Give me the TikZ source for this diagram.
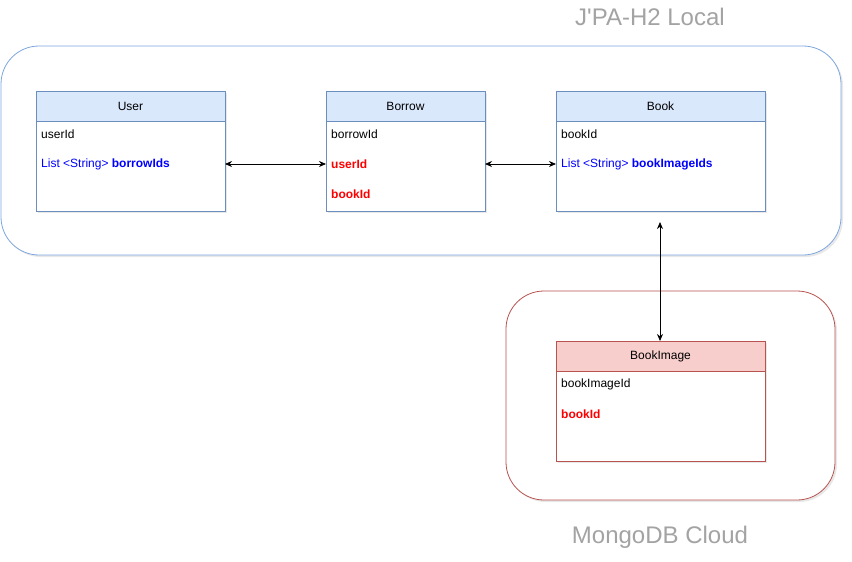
\documentclass[tikz,border=0pt]{standalone}
\usepackage{fontspec}
\setmainfont{Liberation Sans}
\usetikzlibrary{positioning,shadows,arrows.meta}
\definecolor{localline}{HTML}{7EA6E0}
\definecolor{cloudline}{HTML}{B85450}
\definecolor{headblue}{HTML}{DAE8FC}
\definecolor{lineblue}{HTML}{6C8EBF}
\definecolor{headred}{HTML}{F8CECC}
\definecolor{titlegray}{HTML}{A3A3A3}
\definecolor{keyblue}{HTML}{0000FF}
\definecolor{keyred}{HTML}{FF0000}
\tikzset{
  boxshadow/.style={drop shadow={opacity=0.18, shadow xshift=2pt, shadow yshift=-2pt}},
  zone/.style={draw, line width=0.8pt, rounded corners=38pt, fill=white, boxshadow, outer sep=0pt},
  zonetitle/.style={text=titlegray, font=\fontsize{24}{28}\selectfont},
  classhead/.style={draw, line width=0.8pt, minimum height=30pt, outer sep=0pt, inner sep=0pt, font=\fontsize{12}{14}\selectfont, boxshadow},
  classbody/.style={draw, line width=0.8pt, minimum height=90pt, outer sep=0pt, inner sep=0pt, fill=white, boxshadow},
  field/.style={anchor=west, inner sep=0pt, font=\fontsize{12}{14}\selectfont},
  link/.style={line width=0.8pt, {Stealth[length=7pt,width=6pt]}-{Stealth[length=7pt,width=6pt]}}
}
\begin{document}
\begin{tikzpicture}[x=1pt,y=-1pt]
  \useasboundingbox[fill=white] (0,0) rectangle (852,562);
  % zones
  \node[zone, draw=localline, minimum width=840pt, minimum height=209pt, anchor=north west] (localzone) at (1,46) {};
  \node[zone, draw=cloudline, minimum width=329pt, minimum height=209pt, anchor=north west] (cloudzone) at (506,291) {};
  \node[zonetitle] (localtitle) at (650,17) {J\textquotesingle PA-H2 Local};
  \node[zonetitle] (cloudtitle) at (660,537) {MongoDB Cloud};
  % classes
  \node[classhead, draw=lineblue, fill=headblue, minimum width=189pt, anchor=north west] (userhead) at (36,91) {User};
  \node[classbody, draw=lineblue, minimum width=189pt, below=0pt of userhead] (userbody) {};
  \node[classhead, draw=lineblue, fill=headblue, minimum width=159pt, anchor=north west] (borrowhead) at (326,91) {Borrow};
  \node[classbody, draw=lineblue, minimum width=159pt, below=0pt of borrowhead] (borrowbody) {};
  \node[classhead, draw=lineblue, fill=headblue, minimum width=209pt, anchor=north west] (bookhead) at (556,91) {Book};
  \node[classbody, draw=lineblue, minimum width=209pt, below=0pt of bookhead] (bookbody) {};
  \node[classhead, draw=cloudline, fill=headred, minimum width=209pt, anchor=north west] (imagehead) at (556,341) {BookImage};
  \node[classbody, draw=cloudline, minimum width=209pt, below=0pt of imagehead] (imagebody) {};
  % fields
  \node[field] (userid) at (41,134) {userId};
  \node[field, text=keyblue] (borrowids) at (41,164) {List <String> \textbf{borrowIds}};
  \node[field] (borrowid) at (331,134) {borrowId};
  \node[field, text=keyred, font=\fontsize{12}{14}\selectfont\bfseries] (borrowuser) at (331,164) {userId};
  \node[field, text=keyred, font=\fontsize{12}{14}\selectfont\bfseries] (borrowbook) at (331,194) {bookId};
  \node[field] (bookid) at (561,134) {bookId};
  \node[field, text=keyblue] (imageids) at (561,164) {List <String> \textbf{bookImageIds}};
  \node[field] (imageid) at (561,384) {bookImageId};
  \node[field, text=keyred, font=\fontsize{12}{14}\selectfont\bfseries] (imagebook) at (561,414) {bookId};
  % links
  \coordinate (booklink) at (660,222);
  \draw[link] (userbody.east |- borrowuser) -- (borrowbody.west |- borrowuser);
  \draw[link] (borrowbody.east |- imageids) -- (bookbody.west |- imageids);
  \draw[link] (booklink) -- (booklink |- imagehead.north);
\end{tikzpicture}
\end{document}
